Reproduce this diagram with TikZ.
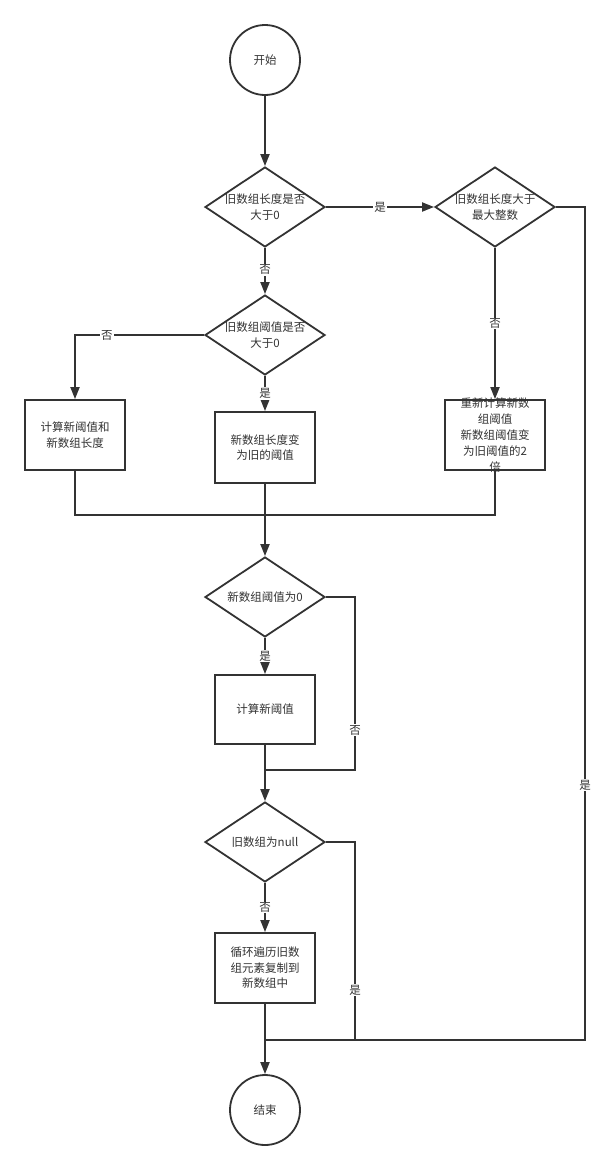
\documentclass[tikz,border=0pt]{standalone}
\usepackage{fontspec}
\setmainfont{Noto Sans CJK SC}
\usetikzlibrary{shapes.geometric,arrows.meta}
\definecolor{ink}{HTML}{333333}
\tikzset{
  x=1pt,y=-1pt,
  every node/.style={font=\fontsize{11.5pt}{15.5pt}\selectfont, text=ink},
  ln/.style={draw=ink, line width=1.8pt},
  arr/.style={ln, -{Triangle[length=12pt,width=9pt]}},
  term/.style={circle, draw=ink, line width=1.8pt, minimum size=70pt, inner sep=0pt},
  proc/.style={rectangle, draw=ink, line width=1.8pt, minimum width=100pt, minimum height=70pt, inner sep=0pt, align=center},
  dia/.style={diamond, draw=ink, line width=1.8pt, minimum width=120pt, minimum height=80pt, inner sep=0pt},
  inner/.style={align=center, inner sep=0pt},
  lbl/.style={fill=white, inner sep=1pt}
}
\begin{document}
\begin{tikzpicture}
\useasboundingbox[fill=white] (0,0) rectangle (610,1167);
% nodes
\node[term] (start) at (265,60) {开始};
\node[dia, label={[inner]center:旧数组长度是否\\大于0}] (d1) at (265,207) {};
\node[dia, label={[inner]center:旧数组长度大于\\最大整数}] (d2) at (495,207) {};
\node[dia, label={[inner]center:旧数组阈值是否\\大于0}] (d3) at (265,335) {};
\node[proc] (b1) at (75,435) {计算新阈值和\\新数组长度};
\node[proc, minimum height=71pt] (b2) at (265,447.5) {新数组长度变\\为旧的阈值};
\node[proc, label={[inner, font=\fontsize{11.5pt}{15.8pt}\selectfont]center:重新计算新数\\组阈值\\新数组阈值变\\为旧阈值的2\\倍}] (b3) at (495,435) {};
\node[dia, label={[inner]center:新数组阈值为0}] (d4) at (265,597) {};
\node[proc, minimum height=69pt] (b4) at (265,709.5) {计算新阈值};
\node[dia, label={[inner]center:旧数组为null}] (d5) at (265,842) {};
\node[proc] (b5) at (265,968) {循环遍历旧数\\组元素复制到\\新数组中};
\node[term] (end) at (265,1110) {结束};
% coordinates
\coordinate (m1) at (75,515);
\coordinate (m3) at (495,515);
\coordinate (c4) at (355,770);
\coordinate (j4) at (265,770);
\coordinate (c5) at (355,1040);
\coordinate (c2) at (585,1040);
\coordinate (j5) at (265,1040);
% connectors
\draw[arr] (start) -- (d1);
\draw[arr] (d1) -- node[lbl]{是} (d2);
\draw[arr] (d1) -- node[lbl, pos=0.47]{否} (d3);
\draw[arr] (d2) -- node[lbl, pos=0.5]{否} (b3);
\draw[arr] (d3.west) -| node[lbl, pos=0.377]{否} (b1.north);
\draw[arr] (d3) -- node[lbl]{是} (b2);
\draw[ln] (b1.south) -- (m1) -- (m3) -- (b3.south);
\draw[arr] (b2) -- (d4);
\draw[arr] (d4) -- node[lbl]{是} (b4);
\draw[ln] (d4.east) -| node[lbl, pos=0.885]{否} (c4) -- (j4);
\draw[arr] (b4) -- (d5);
\draw[arr] (d5) -- node[lbl]{否} (b5);
\draw[ln] (d5.east) -| node[lbl, pos=0.874]{是} (c5) -- (j5);
\draw[ln] (d2.east) -| node[lbl, pos=0.847]{是} (c2) -- (j5);
\draw[arr] (b5) -- (end);
\end{tikzpicture}
\end{document}
